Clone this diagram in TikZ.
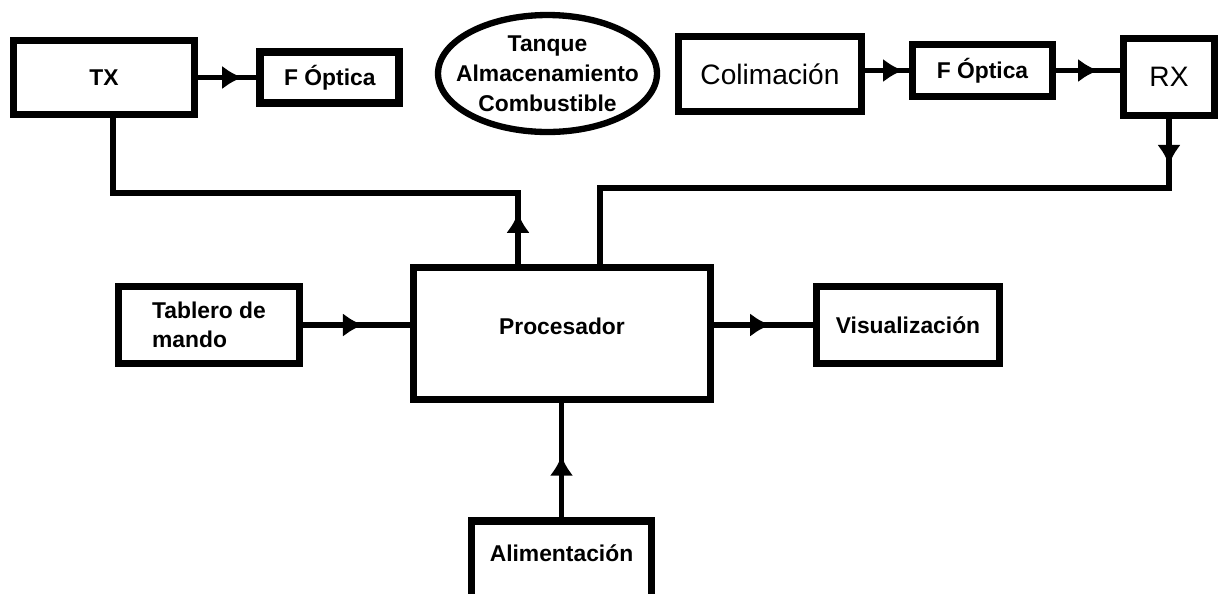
\documentclass[tikz,border=0pt]{standalone}
\usepackage{fontspec}
\setmainfont{Liberation Sans}
\usetikzlibrary{
arrows.meta,
decorations.markings,
positioning,
shapes.geometric,
}
\tikzset{
outer sep=auto,
every node/.style={align=center},
block/.style={rectangle, draw, line width=4.5pt, font=\fontsize{13}{16.5}\selectfont\bfseries},
bigblock/.style={block, font=\fontsize{16}{19}\selectfont},
tank/.style={ellipse, draw, line width=3.6pt, inner xsep=-8pt, inner ysep=0pt,
  minimum width=4.38cm, minimum height=2.34cm, font=\fontsize{13}{17}\selectfont\bfseries},
wire/.style={line width=3.4pt},
tipat/.style={wire, postaction=decorate, decoration={markings,
  mark=at position #1 with {\arrow{Latex[length=11.5pt,width=13.5pt]}}}},
}

\begin{document}
\begin{tikzpicture}[x=0.02cm, y=-0.02cm]
    \useasboundingbox (0,0) rectangle (1226,593);
    % fila superior
    \node [block, minimum width=3.62cm, minimum height=1.48cm] (tx) at (104,77.5) {TX};
    \node [block, minimum width=2.78cm, minimum height=1.02cm, right=1.16cm of tx] (fop1) {F Óptica};
    \node [tank] (tank) at (547.5,73.5) {Tanque\\Almacenamiento\\Combustible};
    \node [bigblock, minimum width=3.66cm, minimum height=1.5cm] (colim) at (770,74) {Colimación};
    \node [block, minimum width=2.8cm, minimum height=1.04cm] (fop2) at (982.5,70.5) {F Óptica};
    \node [bigblock, minimum width=1.82cm, minimum height=1.54cm] (rx) at (1169,77) {RX};
    % fila central
    \node [block, align=left, minimum width=3.62cm, minimum height=1.54cm] (tab) at (209,325) {Tablero de\\mando};
    \node [block, minimum width=5.94cm, minimum height=2.64cm, text depth=8pt] (proc) at (562,333.5) {Procesador};
    \node [block, minimum width=3.66cm, minimum height=1.54cm] (vis) at (908,325) {Visualización};
    % fila inferior
    \node [block, anchor=north, minimum width=3.6cm, minimum height=1.6cm, text depth=9pt] (alim) at (561.5,517) {Alimentación};

    \draw [tipat=25pt] (tx.east |- fop1.west) -- (fop1.west);
    \draw [tipat=21.5pt] (colim.east |- fop2.west) -- (fop2.west);
    \draw [tipat=23.8pt] (fop2.east) -- (fop2.east -| rx.west);
    \draw [tipat=34pt] (tab.east) -- (tab.east -| proc.west);
    \draw [tipat=31.8pt] (proc.east |- vis.west) -- (vis.west);
    \draw [tipat=35pt] (alim.north) -- (alim.north |- proc.south);
    \draw [tipat=29pt] (proc.north -| 518,0) -- (518,193) -| (tx.south -| 113,0);
    \draw [tipat=26pt] (rx.south) -- (rx.south |- 0,188) -- (600,188) -- (proc.north -| 600,0);
\end{tikzpicture}
\end{document}
